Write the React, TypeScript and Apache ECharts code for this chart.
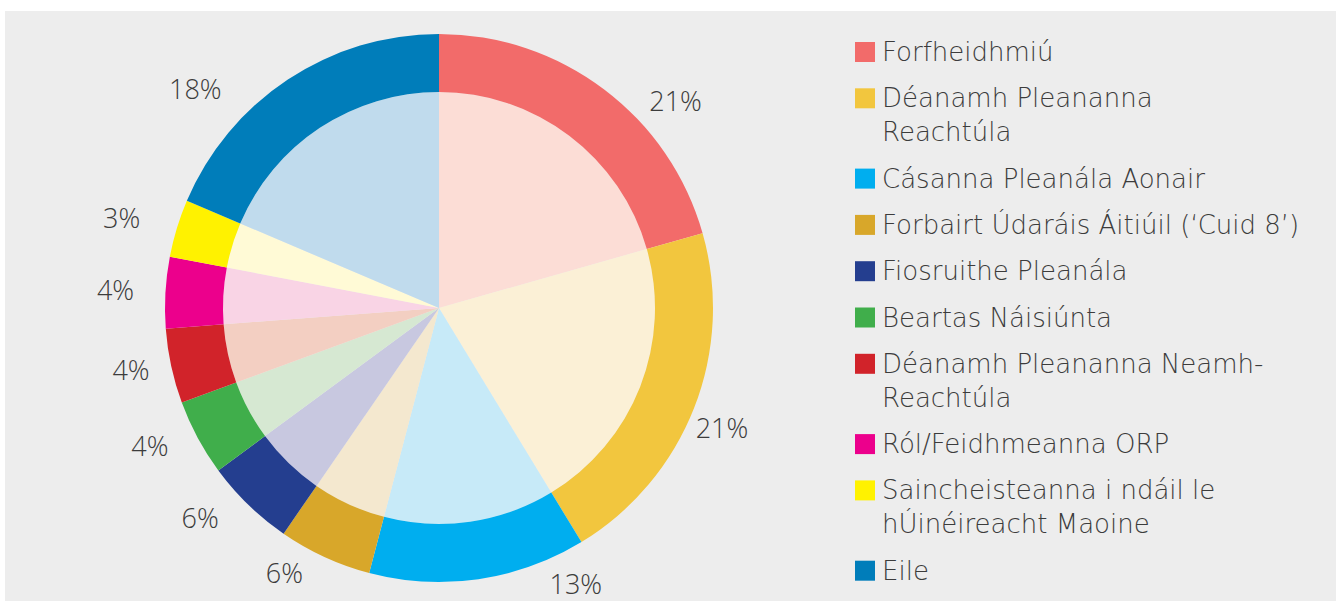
import React, { useEffect, useRef } from "react";
import * as echarts from "echarts";

const categories = [
  "Forfheidhmiú",
  "Déanamh Pleananna Reachtúla",
  "Cásanna Pleanála Aonair",
  "Forbairt Údaráis Áitiúil (‘Cuid 8’)",
  "Fiosruithe Pleanála",
  "Beartas Náisiúnta",
  "Déanamh Pleananna Neamh-Reachtúla",
  "Ról/Feidhmeanna ORP",
  "Saincheisteanna i ndáil le hÚinéireacht Maoine",
  "Eile",
];
const legendLabels = [
  "Forfheidhmiú",
  "Déanamh Pleananna\nReachtúla",
  "Cásanna Pleanála Aonair",
  "Forbairt Údaráis Áitiúil (‘Cuid 8’)",
  "Fiosruithe Pleanála",
  "Beartas Náisiúnta",
  "Déanamh Pleananna Neamh-\nReachtúla",
  "Ról/Feidhmeanna ORP",
  "Saincheisteanna i ndáil le\nhÚinéireacht Maoine",
  "Eile",
];
const values = [20.6, 20.7, 12.8, 5.5, 5.3, 4.5, 4.4, 4.2, 3.4, 18.6];
const percentLabels = ["21%", "21%", "13%", "6%", "6%", "4%", "4%", "4%", "3%", "18%"];
const outerColors = [
  "#f26b6a", "#f2c63e", "#00aeef", "#d8a72a", "#243e8f",
  "#40ae4b", "#d1232a", "#ec008c", "#fff200", "#007dba",
];
const innerColors = [
  "#fcddd6", "#fbf0d6", "#c7eaf8", "#f4e8cf", "#c8c8e0",
  "#d6e8d2", "#f3cfc2", "#f9d4e5", "#fffad6", "#c0dbed",
];

// label placement (layout only): angular shift from slice middle (deg) and distance from centre
const labelShiftDeg = [11.6, 1.4, -18.1, 5.7, 4.6, 2.9, 1.0, 0, -1.0, -14.5];
const labelRadius = [315, 307, 308, 306, 318, 320, 314, 324, 330, 328];

const LABEL_FONT = '"Open Sans", "DejaVu Sans", sans-serif';
const LEGEND_FONT = '"DejaVu Sans", "Open Sans", sans-serif';
const TEXT_COLOR = "#3c3c3c";
const CX = 434;
const CY = 297;
const R_OUT = 274;
const R_IN = 216;

export default function App() {
  const ref = useRef<HTMLDivElement>(null);
  useEffect(() => {
    if (!ref.current) return;
    const chart = echarts.init(ref.current, undefined, { renderer: "svg" });
    const total = values.reduce((a, b) => a + b, 0);
    const cum: number[] = [];
    let acc = 0;
    values.forEach((v) => {
      cum.push(acc + v / 2);
      acc += v;
    });

    const rich: any = {
      t: { fontFamily: LEGEND_FONT, fontWeight: 200, fontSize: 26, lineHeight: 34, color: TEXT_COLOR },
      g: { width: 7, lineHeight: 34 },
      p: { width: 20, lineHeight: 34 },
    };
    outerColors.forEach((c, i) => {
      rich["b" + i] = { width: 20, height: 20, backgroundColor: c, lineHeight: 34 };
    });

    chart.setOption({
      animation: false,
      backgroundColor: "#ededed",
      legend: {
        orient: "vertical",
        left: 845,
        top: 28,
        padding: 0,
        itemGap: 20.3,
        itemWidth: 0,
        itemHeight: 0,
        icon: "rect",
        selectedMode: false,
        data: categories,
        formatter: (name: string) => {
          const i = categories.indexOf(name);
          const lines = legendLabels[i].split("\n");
          let s = `{b${i}|}{g|}{t|${lines[0]}}`;
          for (let k = 1; k < lines.length; k++) {
            s += `\n{p|}{g|}{t|${lines[k]}}`;
          }
          return s;
        },
        textStyle: { rich, fontFamily: LEGEND_FONT, fontSize: 26, color: TEXT_COLOR },
      },
      series: [
        {
          type: "pie",
          name: "inner",
          center: [CX, CY],
          radius: [0, R_IN],
          startAngle: 90,
          silent: true,
          label: { show: false },
          labelLine: { show: false },
          data: categories.map((n, i) => ({
            name: n,
            value: values[i],
            itemStyle: { color: innerColors[i] },
          })),
        },
        {
          type: "pie",
          name: "outer",
          center: [CX, CY],
          radius: [R_IN, R_OUT],
          startAngle: 90,
          silent: true,
          avoidLabelOverlap: false,
          label: {
            show: true,
            position: "outside",
            formatter: (p: any) => percentLabels[p.dataIndex],
            fontFamily: LABEL_FONT,
            fontWeight: 300,
            fontSize: 27,
            color: TEXT_COLOR,
          },
          labelLine: { show: false },
          labelLayout: (params: any) => {
            const i = params.dataIndex;
            const a = (cum[i] / total) * Math.PI * 2 + (labelShiftDeg[i] * Math.PI) / 180;
            const r = labelRadius[i];
            return {
              x: CX + r * Math.sin(a),
              y: CY - r * Math.cos(a),
              align: "center",
              verticalAlign: "middle",
            };
          },
          data: categories.map((n, i) => ({
            name: n,
            value: values[i],
            itemStyle: { color: outerColors[i] },
          })),
        },
      ],
    });
    return () => chart.dispose();
  }, []);

  return (
    <div style={{ position: "absolute", left: 0, top: 0, width: 1338, height: 601, background: "#ffffff" }}>
      <div
        ref={ref}
        style={{ position: "absolute", left: 5, top: 11, width: 1331, height: 590 }}
      />
    </div>
  );
}
